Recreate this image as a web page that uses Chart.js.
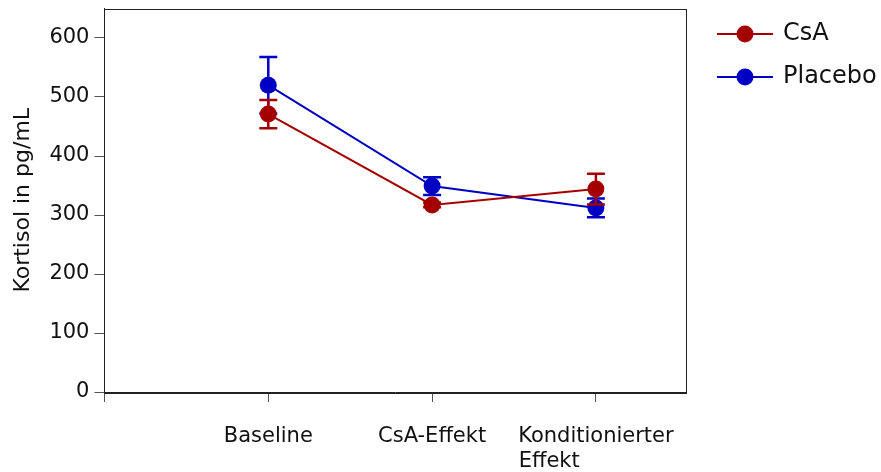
<!DOCTYPE html>
<html>
<head>
<meta charset="utf-8">
<script src="https://cdn.jsdelivr.net/npm/chart.js@4.4.1/dist/chart.umd.min.js"></script>
<style>
  body { margin: 0; background: #fff; }
  #wrap { width: 881px; height: 472px; }
</style>
</head>
<body>
<div id="wrap"><canvas id="kortisolChart"></canvas></div>
<script>
// categories sit at x = 1, 2, 3 on a linear axis (0 is just a tick)
const categories = [["Baseline"], ["CsA-Effekt"], ["Konditionierter", "Effekt"]];
const categoryPos = [1, 2, 3];

const csaMean = [471, 317, 344];
const csaErr = [24, 4, 26];
const placeboMean = [520, 349, 312];
const placeboErr = [48, 15, 16];

const yTicks = [0, 100, 200, 300, 400, 500, 600];

const RED = "#a50000";
const BLUE = "#0000c4";
const FONT = "'DejaVu Sans', Verdana, sans-serif";

function toPoints(means) {
  return means.map((v, i) => ({ x: categoryPos[i], y: v }));
}

// error bars, drawn per dataset just before its line/points
const errorBars = {
  id: "errorBars",
  beforeDatasetDraw(chart, args) {
    const ds = chart.data.datasets[args.index];
    if (!ds.errors) return;
    const { ctx, scales: { x, y } } = chart;
    ctx.save();
    ctx.strokeStyle = ds.borderColor;
    ctx.lineWidth = 2.5;
    ds.data.forEach((p, i) => {
      const px = x.getPixelForValue(p.x);
      const top = y.getPixelForValue(p.y + ds.errors[i]);
      const bot = y.getPixelForValue(p.y - ds.errors[i]);
      ctx.beginPath();
      ctx.moveTo(px, top); ctx.lineTo(px, bot);
      ctx.moveTo(px - 9, top); ctx.lineTo(px + 9, top);
      ctx.moveTo(px - 9, bot); ctx.lineTo(px + 9, bot);
      ctx.stroke();
    });
    ctx.restore();
  }
};

// box around the plot and a line+dot legend on the right
const frameAndLegend = {
  id: "frameAndLegend",
  afterDraw(chart) {
    const { ctx, chartArea: a } = chart;
    ctx.save();
    ctx.strokeStyle = "#222";
    ctx.lineWidth = 1;
    ctx.strokeRect(Math.round(a.left) + 0.5, Math.round(a.top) + 0.5,
      Math.round(a.right - a.left), Math.round(a.bottom - a.top));

    const x0 = a.right + 31;
    chart.data.datasets.forEach((ds, i) => {
      const yy = 34 + i * 43;
      ctx.strokeStyle = ds.borderColor;
      ctx.lineWidth = 2;
      ctx.beginPath();
      ctx.moveTo(x0, yy); ctx.lineTo(x0 + 56, yy);
      ctx.stroke();
      ctx.fillStyle = ds.borderColor;
      ctx.beginPath();
      ctx.arc(x0 + 28, yy, 8.5, 0, Math.PI * 2);
      ctx.fill();
      ctx.fillStyle = "#111";
      ctx.font = "24px " + FONT;
      ctx.textBaseline = "middle";
      ctx.textAlign = "left";
      ctx.fillText(ds.label, x0 + 66, yy);
    });
    ctx.restore();
  }
};

new Chart(document.getElementById("kortisolChart"), {
  type: "line",
  data: {
    datasets: [
      {
        label: "CsA",
        data: toPoints(csaMean),
        errors: csaErr,
        borderColor: RED,
        backgroundColor: RED,
        borderWidth: 2,
        pointRadius: 8.5,
        pointBorderWidth: 0
      },
      {
        label: "Placebo",
        data: toPoints(placeboMean),
        errors: placeboErr,
        borderColor: BLUE,
        backgroundColor: BLUE,
        borderWidth: 2,
        pointRadius: 8.5,
        pointBorderWidth: 0
      }
    ]
  },
  options: {
    responsive: true,
    maintainAspectRatio: false,
    animation: false,
    layout: { padding: { top: 8, right: 195, left: 8, bottom: 0 } },
    plugins: {
      legend: { display: false },
      tooltip: { enabled: false }
    },
    scales: {
      x: {
        type: "linear",
        min: 0,
        max: 3.55,
        grid: { drawOnChartArea: false, tickLength: 10, color: "#555", tickWidth: 1 },
        border: { color: "#222" },
        afterBuildTicks(axis) {
          axis.ticks = [0, ...categoryPos].map(v => ({ value: v }));
        },
        afterFit(axis) {
          axis.height = 80;
        },
        ticks: {
          autoSkip: false,
          maxRotation: 0,
          padding: 22,
          color: "#111",
          font: { family: FONT, size: 21 },
          callback(value) {
            const i = categoryPos.indexOf(value);
            if (i < 0) return "";
            const lines = categories[i];
            if (lines.length < 2) return lines[0];
            // second line reads left-aligned under the first
            return [lines[0], lines[1].padEnd(20, " ")];
          }
        }
      },
      y: {
        min: 0,
        max: 650,
        grid: { drawOnChartArea: false, tickLength: 10, color: "#555" },
        border: { color: "#222" },
        afterBuildTicks(axis) {
          axis.ticks = yTicks.map(v => ({ value: v }));
        },
        afterFit(axis) {
          axis.paddingTop = 0;
          axis.paddingBottom = 0;
        },
        ticks: {
          padding: 5,
          color: "#111",
          font: { family: FONT, size: 21 }
        },
        title: {
          display: true,
          text: "Kortisol in pg/mL",
          color: "#111",
          font: { family: FONT, size: 22 },
          padding: { top: 2, bottom: 8 }
        }
      }
    }
  },
  plugins: [errorBars, frameAndLegend]
});
</script>
</body>
</html>
